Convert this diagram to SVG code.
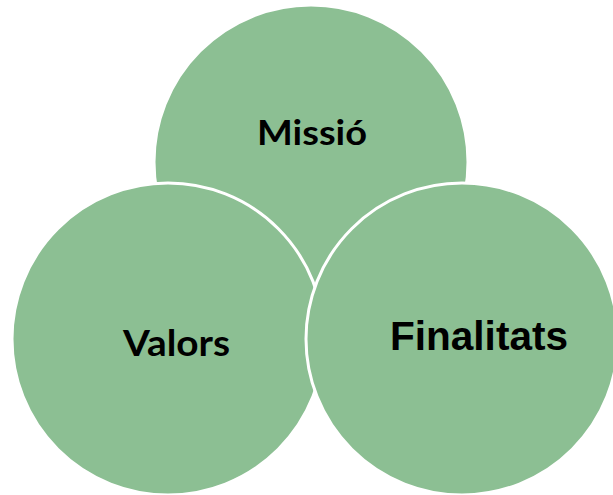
<svg xmlns="http://www.w3.org/2000/svg" width="613" height="495" viewBox="0 0 613 495">
<style>
.c{fill:#8CBF93;stroke:#FFFFFF;stroke-width:3}
.l{font-family:Lato,"Open Sans",sans-serif;font-weight:bold;fill:#000}
.a{font-family:"Liberation Sans",Arial,sans-serif;font-weight:bold;fill:#000}
</style>
<rect width="613" height="495" fill="#FFFFFF"/>
<g id="missio">
<circle class="c" cx="311" cy="162" r="157"/>
<text class="l" x="257" y="145" font-size="35" textLength="110" lengthAdjust="spacingAndGlyphs">Missió</text>
</g>
<g id="valors">
<circle class="c" cx="168" cy="339" r="156"/>
<text class="l" x="123" y="356" font-size="36" textLength="107" lengthAdjust="spacingAndGlyphs">Valors</text>
</g>
<g id="finalitats">
<circle class="c" cx="462" cy="339" r="156"/>
<text class="a" x="390" y="350" font-size="41" textLength="178" lengthAdjust="spacingAndGlyphs">Finalitats</text>
</g>
<g id="connectors"></g>
</svg>
